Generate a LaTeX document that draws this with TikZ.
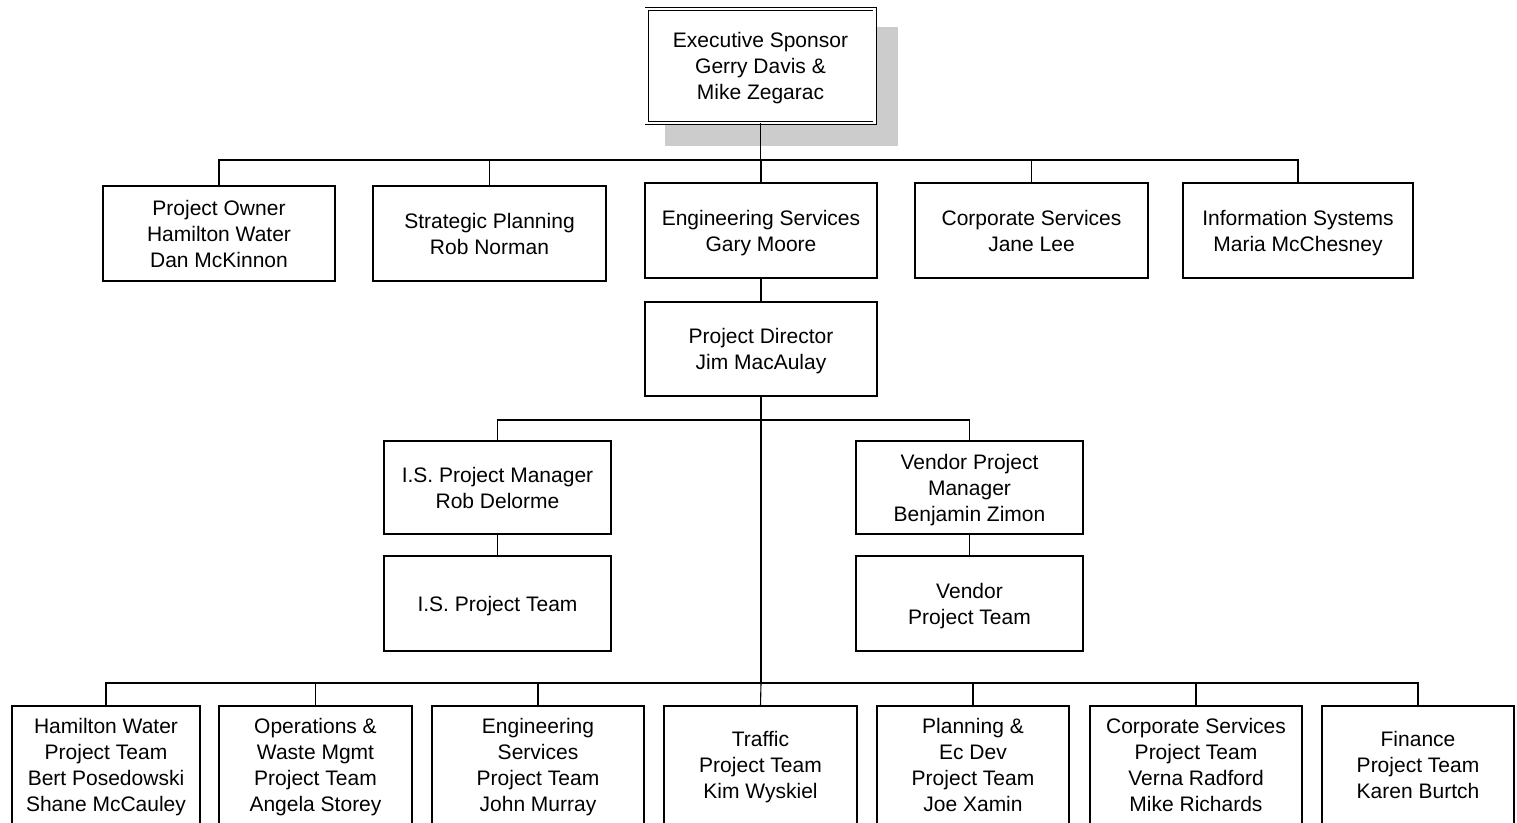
\documentclass[tikz,border=0pt]{standalone}
\usepackage{fontspec}
\setmainfont{Liberation Sans}
\usetikzlibrary{positioning}

\begin{document}
\begin{tikzpicture}[x=1pt,y=-1pt,line width=1.1pt,
  box/.style={draw,rectangle,align=center,inner sep=0pt,text depth=0pt,
    font=\fontsize{21}{26}\selectfont},
  topbox/.style={box,double,double distance=2.2pt,line width=0.9pt,fill=white},
  trunk/.style={line width=2pt}]
%set diagram area: 1517 x 822
\useasboundingbox (0,0) rectangle (1517,822);

%Shape: Shadow of top box
\fill [gray!40] (665,27) rectangle (898,146);
% Top box
\node [topbox,minimum width=228,minimum height=114] (sponsor) at (760.5,66) {Executive Sponsor\\Gerry Davis \&\\Mike Zegarac};

% Second row
\node [box,minimum width=232,minimum height=95] (owner) at (219,233.5) {Project Owner\\Hamilton Water\\Dan McKinnon};
\node [box,minimum width=233,minimum height=95] (strat) at (489.5,233.5) {Strategic Planning\\Rob Norman};
\node [box,minimum width=232,minimum height=95] (engsrv) at (761,230.5) {Engineering Services\\Gary Moore};
\node [box,minimum width=233,minimum height=95] (corpsrv) at (1031.5,230.5) {Corporate Services\\Jane Lee};
\node [box,minimum width=230,minimum height=95] (infosys) at (1298,230.5) {Information Systems\\Maria McChesney};

% Project director
\node [box,minimum width=232,minimum height=94] (director) at (761,349) {Project Director\\Jim MacAulay};

% Managers and teams
\node [box,minimum width=227,minimum height=93] (ispm) at (497.5,487.5) {I.S. Project Manager\\Rob Delorme};
\node [box,minimum width=227,minimum height=95] (ispt) at (497.5,603.5) {I.S. Project Team};
\node [box,minimum width=227,minimum height=93] (vpm) at (969.5,487.5) {Vendor Project\\Manager\\Benjamin Zimon};
\node [box,minimum width=227,minimum height=95] (vpt) at (969.5,603.5) {Vendor\\Project Team};

% Bottom row
\node [box,minimum width=188,minimum height=118] (hwteam) at (106,765) {Hamilton Water\\Project Team\\Bert Posedowski\\Shane McCauley};
\node [box,minimum width=193,minimum height=118] (opsteam) at (315.5,765) {Operations \&\\Waste Mgmt\\Project Team\\Angela Storey};
\node [box,minimum width=212,minimum height=118] (engteam) at (538,765) {Engineering\\Services\\Project Team\\John Murray};
\node [box,minimum width=193,minimum height=118] (trteam) at (760.5,765) {Traffic\\Project Team\\Kim Wyskiel};
\node [box,minimum width=192,minimum height=118] (plteam) at (973,765) {Planning \&\\Ec Dev\\Project Team\\Joe Xamin};
\node [box,minimum width=212,minimum height=118] (csteam) at (1196,765) {Corporate Services\\Project Team\\Verna Radford\\Mike Richards};
\node [box,minimum width=192,minimum height=118] (finteam) at (1418,765) {Finance\\Project Team\\Karen Burtch};

% Bus points
\coordinate (busA) at (760.5,160);
\coordinate (busB) at (761,420);
\coordinate (busC) at (761,683);

%Straight Lines: top bus
\draw (sponsor.south) -- (busA);
\draw (busA) -| (owner.north);
\draw (busA) -| (strat.north);
\draw (busA) -| (engsrv.north);
\draw (busA) -| (corpsrv.north);
\draw (busA) -| (infosys.north);
\draw (engsrv.south) -- (director.north);

%Straight Lines: middle bus
\draw (director.south) -- (busB);
\draw (busB) -| (ispm.north);
\draw (busB) -| (vpm.north);
\draw (ispm.south) -- (ispt.north);
\draw (vpm.south) -- (vpt.north);

%Straight Lines: bottom bus
\draw [trunk] (busB) -- (busC);
\draw [line width=1.6pt] (opsteam.north |- busC) -- (csteam.north |- busC);
\draw (busC) -| (hwteam.north);
\draw (busC) -| (opsteam.north);
\draw (busC) -| (engteam.north);
\draw (busC) -- (trteam.north);
\draw (busC) -| (plteam.north);
\draw (busC) -| (csteam.north);
\draw (busC) -| (finteam.north);

\end{tikzpicture}
\end{document}
